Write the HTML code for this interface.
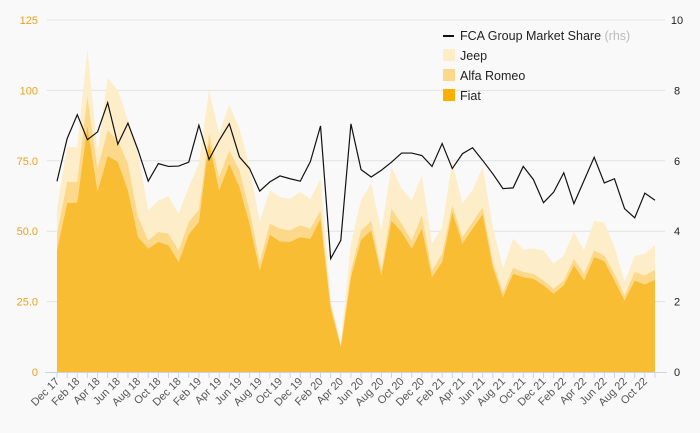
<!DOCTYPE html>
<html><head><meta charset="utf-8"><style>
body{margin:0;background:#f9f9f9;font-family:"Liberation Sans",sans-serif;}
svg{display:block}
</style></head><body>
<svg id="chart" width="700" height="433">
<rect width="700" height="433" fill="#f9f9f9"/>
<g id="grid"></g><g id="areas"></g><g id="line"></g><g id="axes"></g>
<g id="legend">
 <line x1="443" y1="36" x2="454" y2="36" stroke="#111" stroke-width="2"/>
 <text x="460" y="40" font-size="12.5" fill="#222">FCA Group Market Share <tspan fill="#bbb">(rhs)</tspan></text>
 <rect x="443" y="49" width="12" height="12" fill="#fdedc8"/>
 <text x="460" y="60" font-size="12.5" fill="#222">Jeep</text>
 <rect x="443" y="69" width="12" height="12" fill="#fcd98a"/>
 <text x="460" y="80" font-size="12.5" fill="#222">Alfa Romeo</text>
 <rect x="443" y="89" width="12" height="12" fill="#fbb100"/>
 <text x="460" y="100" font-size="12.5" fill="#222">Fiat</text>
</g>
</svg>
<script>
const months=["Dec 17","Jan 18","Feb 18","Mar 18","Apr 18","May 18","Jun 18","Jul 18","Aug 18","Sep 18","Oct 18","Nov 18","Dec 18","Jan 19","Feb 19","Mar 19","Apr 19","May 19","Jun 19","Jul 19","Aug 19","Sep 19","Oct 19","Nov 19","Dec 19","Jan 20","Feb 20","Mar 20","Apr 20","May 20","Jun 20","Jul 20","Aug 20","Sep 20","Oct 20","Nov 20","Dec 20","Jan 21","Feb 21","Mar 21","Apr 21","May 21","Jun 21","Jul 21","Aug 21","Sep 21","Oct 21","Nov 21","Dec 21","Jan 22","Feb 22","Mar 22","Apr 22","May 22","Jun 22","Jul 22","Aug 22","Sep 22","Oct 22","Nov 22"];
const fiat=[43.2,60,60.2,87.6,64.1,76.7,74.6,64.5,47.9,43.8,46.2,45,39.1,48.9,53.3,81.7,64.5,74,65.7,52.7,36.1,48.8,46.4,46.2,47.9,47.3,54.4,22.5,8.9,33.7,47,50.3,34.3,53.8,49.7,43.8,50.9,33.7,39.1,56.8,45.6,50.9,56,37.3,26.6,34.9,33.7,33.1,30.8,27.8,30.8,37.9,32.5,40.8,39.4,32.5,25.4,32.5,31.1,32.8];
const alfa=[5.9,7.5,7.3,10.3,8.1,9.1,7.6,9.5,7.1,2.9,3.5,4.1,4.1,4.4,4.3,3,4.7,4.7,5.9,4.7,3,3.9,4.5,4.1,4.2,3.6,3,1.8,0.6,2.4,3.3,3.3,1.8,4.2,3,2.9,4.7,2.4,2.9,2.4,2.3,2.4,2.6,1.8,1.8,2.1,1.8,1.8,1.7,1.8,1.7,2.3,2.4,2.4,2,2.4,1.8,3,3.2,3.5];
const jeep=[8.9,12.4,12.4,16.5,6,18.6,17.8,15.3,22.5,10.7,11.2,13.3,13,12.4,16.4,15.3,15.4,16.2,14.8,15.4,14.2,11.8,11.2,11.2,11.8,10.6,11.2,1.1,0.5,9.5,10.7,13.3,14.2,14.8,12.4,14.3,14.2,9.5,9.5,15.4,11.9,11.2,14.2,12.4,8.3,10.3,7.9,8.9,10.7,8.9,8.9,9.5,8.3,10.4,11.7,9.5,4.8,5.7,7.7,8.7];
const share=[5.42,6.63,7.31,6.6,6.82,7.65,6.47,7.07,6.3,5.42,5.92,5.84,5.85,5.96,7.01,6.04,6.58,7.05,6.11,5.78,5.14,5.4,5.57,5.49,5.42,5.98,6.99,3.22,3.74,7.05,5.75,5.54,5.73,5.96,6.22,6.22,6.15,5.84,6.49,5.78,6.2,6.37,6.01,5.63,5.21,5.23,5.84,5.47,4.81,5.11,5.66,4.78,5.44,6.1,5.37,5.49,4.64,4.38,5.08,4.88];
const leftTicks=[0,25,50,75,100,125];
const leftTickLabels=["0","25.0","50.0","75.0","100","125"];
const rightTicks=[0,2,4,6,8,10];

const NS="http://www.w3.org/2000/svg";
const X0=57,X1=655,Y0=372,Y1=20;
const x=i=>X0+i*(X1-X0)/(months.length-1);
const yL=v=>Y0-v*(Y0-Y1)/125;
const yR=v=>Y0-v*(Y0-Y1)/10;
function mk(tag,attrs,parent){const e=document.createElementNS(NS,tag);for(const k in attrs)e.setAttribute(k,attrs[k]);parent.appendChild(e);return e;}
const grid=document.getElementById('grid'),areas=document.getElementById('areas'),lineG=document.getElementById('line'),axes=document.getElementById('axes');

leftTicks.forEach((t,i)=>{
 if(t>0){const g=mk('line',{x1:X0-10,x2:X1+10,y1:yL(t),y2:yL(t),stroke:'#e2e2e2','stroke-width':1},grid);
 
 }
 const tx=mk('text',{x:38,y:yL(t)+4,'text-anchor':'end','font-size':11,fill:'#e9a21b'},axes);tx.textContent=leftTickLabels[i];
 
 
});
rightTicks.forEach(t=>{
 const tx=mk('text',{x:677,y:yR(t)+4,'text-anchor':'middle','font-size':11,fill:'#222'},axes);tx.textContent=String(t);
 
 
});
const base=mk('line',{x1:X0-12,x2:X1+12,y1:Y0+0.5,y2:Y0+0.5,stroke:'#c8d3ea','stroke-width':1},axes);


months.forEach((m,i)=>{
 const tk=mk('line',{x1:x(i),x2:x(i),y1:Y0,y2:Y0+6,stroke:'#c8d3ea','stroke-width':1},axes);
 
 
 if(i%2===0){const tx=mk('text',{x:x(i)+3,y:Y0+10,'text-anchor':'end','font-size':11,fill:'#555',transform:`rotate(-45 ${x(i)+3} ${Y0+10})`},axes);tx.textContent=m;
 
 }
});

function stackPath(lower,upper){
 let d='M'+x(0)+','+yL(upper[0]);
 for(let i=1;i<upper.length;i++)d+='L'+x(i)+','+yL(upper[i]);
 for(let i=lower.length-1;i>=0;i--)d+='L'+x(i)+','+yL(lower[i]);
 return d+'Z';
}
const zero=fiat.map(()=>0);
const c1=fiat.slice();
const c2=fiat.map((v,i)=>v+alfa[i]);
const c3=c2.map((v,i)=>v+jeep[i]);
const pj=mk('path',{d:stackPath(c2,c3),fill:'#fdedc8'},areas);


const pa=mk('path',{d:stackPath(c1,c2),fill:'#fcd98a'},areas);


const pf=mk('path',{d:stackPath(zero,c1),fill:'#f9bd33'},areas);


const ld=share.map((v,i)=>(i?'L':'M')+x(i)+','+yR(v)).join('');
const pl=mk('path',{d:ld,fill:'none',stroke:'#111','stroke-width':1.2},lineG);


</script>
</body></html>
